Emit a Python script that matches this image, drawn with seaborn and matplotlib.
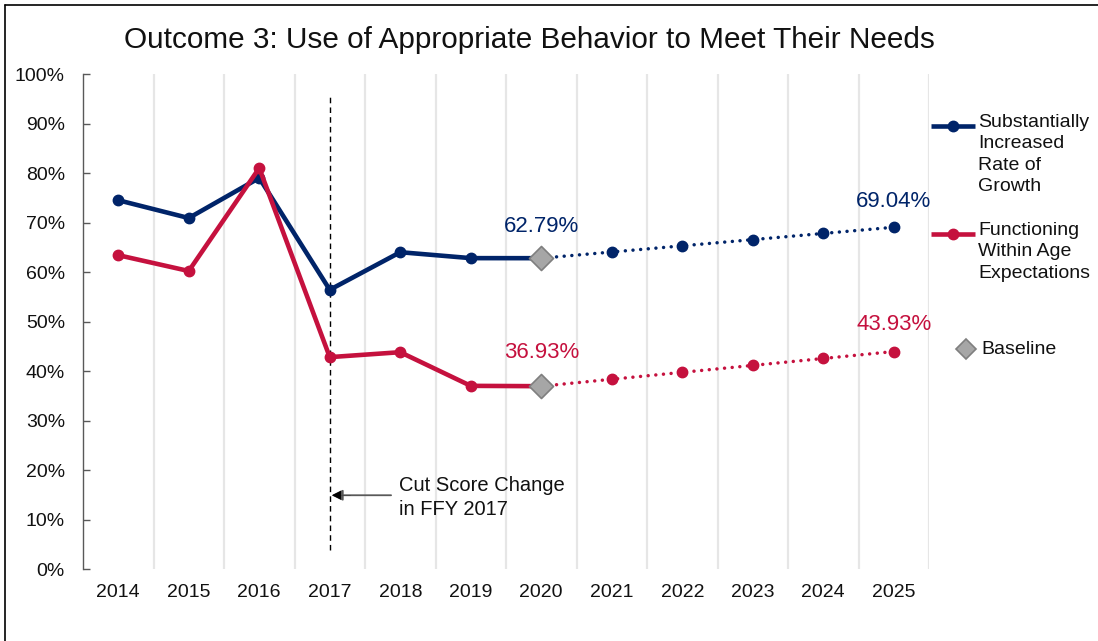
import matplotlib
matplotlib.use("Agg")
import matplotlib.pyplot as plt
from matplotlib.lines import Line2D
from matplotlib.ticker import FixedLocator, FuncFormatter
import seaborn as sns


sns.set_theme(style="white")
plt.rcParams["font.family"] = ["Liberation Sans", "DejaVu Sans"]

# values (percent)
years_hist = [2014, 2015, 2016, 2017, 2018, 2019, 2020]
growth_hist = [74.5, 70.9, 79.0, 56.4, 64.0, 62.8, 62.79]
within_hist = [63.4, 60.2, 81.0, 42.8, 43.8, 37.0, 36.93]

years_target = [2020, 2021, 2022, 2023, 2024, 2025]
growth_target = [62.79, 64.04, 65.29, 66.54, 67.79, 69.04]
within_target = [36.93, 38.33, 39.73, 41.13, 42.53, 43.93]

all_years = list(range(2014, 2026))
cut_year = 2017

BLUE = "#002469"
RED = "#C5113E"
DIAMOND_FACE = "#A6A6A6"
DIAMOND_EDGE = "#7F7F7F"

fig = plt.figure(figsize=(10.98, 6.41), dpi=100)
ax = fig.add_axes([83 / 1098, 1 - 569 / 641, (929 - 83) / 1098, (569 - 74) / 641])

for color, hist, target in [(BLUE, growth_hist, growth_target), (RED, within_hist, within_target)]:
    sns.lineplot(x=years_hist, y=hist, ax=ax, color=color, linewidth=3.3,
                 marker="o", markersize=7.5, markeredgecolor=color, markeredgewidth=1,
                 errorbar=None, zorder=3)
    sns.lineplot(x=years_target, y=target, ax=ax, color=color, linewidth=2.5,
                 linestyle=(0, (0.01, 2.2)), dash_capstyle="round",
                 marker="o", markersize=7.5, markeredgecolor=color, markeredgewidth=1,
                 errorbar=None, zorder=3)

sns.scatterplot(x=[years_hist[-1], years_hist[-1]], y=[growth_hist[-1], within_hist[-1]],
                ax=ax, marker="D", s=150, color=DIAMOND_FACE, edgecolor=DIAMOND_EDGE,
                linewidth=1.2, zorder=5)

# value labels
ax.text(2020, 69.1, f"{growth_target[0]:.2f}%", color=BLUE, fontsize=16, ha="center", va="center")
ax.text(2020, 43.8, f"{within_target[0]:.2f}%", color=RED, fontsize=16, ha="center", va="center")
ax.text(2025, 74.3, f"{growth_target[-1]:.2f}%", color=BLUE, fontsize=16, ha="center", va="center")
ax.text(2025, 49.3, f"{within_target[-1]:.2f}%", color=RED, fontsize=16, ha="center", va="center")

# cut score marker
ax.vlines(cut_year, 3.8, 95.8, colors="black", linestyles=(0, (4, 3)), linewidth=1.0, zorder=2)
ax.annotate("", xy=(cut_year + 0.03, 14.9), xytext=(cut_year + 0.87, 14.9),
            arrowprops=dict(arrowstyle="-|>", color="#595959", lw=1.3,
                            mutation_scale=16, shrinkA=0, shrinkB=0))
ax.annotate("", xy=(cut_year + 0.03, 14.9), xytext=(cut_year + 0.3, 14.9),
            arrowprops=dict(arrowstyle="-|>", color="black", lw=0.1,
                            mutation_scale=16, shrinkA=0, shrinkB=0))
ax.text(cut_year + 0.98, 14.4, "Cut Score Change\nin FFY 2017", fontsize=14.5,
        ha="left", va="center", linespacing=1.3, color="#111111")

# axes styling
ax.set_xlim(2013.5, 2025.5)
ax.set_ylim(0, 100)
ax.xaxis.set_major_locator(FixedLocator(all_years))
ax.xaxis.set_minor_locator(FixedLocator([y + 0.5 for y in all_years]))
ax.set_yticks(range(0, 101, 10))
ax.yaxis.set_major_formatter(FuncFormatter(lambda v, _: f"{v:.0f}%"))
ax.grid(False)
ax.xaxis.grid(True, which="minor", color="#E6E6E6", linewidth=1.6)
ax.tick_params(axis="x", which="both", length=0, labelsize=14, pad=11, colors="#111111")
ax.tick_params(axis="y", direction="in", length=5, width=1, color="#595959",
               labelsize=14, pad=13, labelcolor="#111111", left=True)
for side in ["top", "right", "bottom"]:
    ax.spines[side].set_visible(False)
ax.spines["left"].set_color("#595959")
ax.spines["left"].set_linewidth(1.0)
ax.set_xlabel("")
ax.set_ylabel("")

fig.text(529 / 1098, 1 - 40 / 641, "Outcome 3: Use of Appropriate Behavior to Meet Their Needs",
         fontsize=21.4, ha="center", va="center", color="#111111")

# legend drawn by hand so the handles sit on the first text line
def fx(px):
    return px / 1098


def fy(py):
    return 1 - py / 641


for color, hy, ty, label in [
    (BLUE, 126, 114, "Substantially\nIncreased\nRate of\nGrowth"),
    (RED, 234, 222, "Functioning\nWithin Age\nExpectations"),
]:
    fig.add_artist(Line2D([fx(931), fx(975)], [fy(hy), fy(hy)], color=color, linewidth=3.3,
                          solid_capstyle="butt"))
    fig.add_artist(Line2D([fx(953)], [fy(hy)], color=color, marker="o", markersize=7.5,
                          markeredgecolor=color))
    fig.text(fx(978), fy(ty), label, fontsize=14, ha="left", va="top", linespacing=1.33,
             color="#111111")

fig.add_artist(Line2D([fx(966)], [fy(349)], marker="D", markersize=10, color=DIAMOND_FACE,
                      markeredgecolor=DIAMOND_EDGE, markeredgewidth=1.2, linestyle="none"))
fig.text(fx(981), fy(349), "Baseline", fontsize=14, ha="left", va="center", color="#111111")

# frame lines on top and left of the screenshot
fig.add_artist(Line2D([fx(5), fx(1098)], [fy(5), fy(5)], color="black", linewidth=1.2))
fig.add_artist(Line2D([fx(5), fx(5)], [fy(5), fy(641)], color="black", linewidth=1.2))

fig.savefig("out.png", dpi=100)
plt.close(fig)
